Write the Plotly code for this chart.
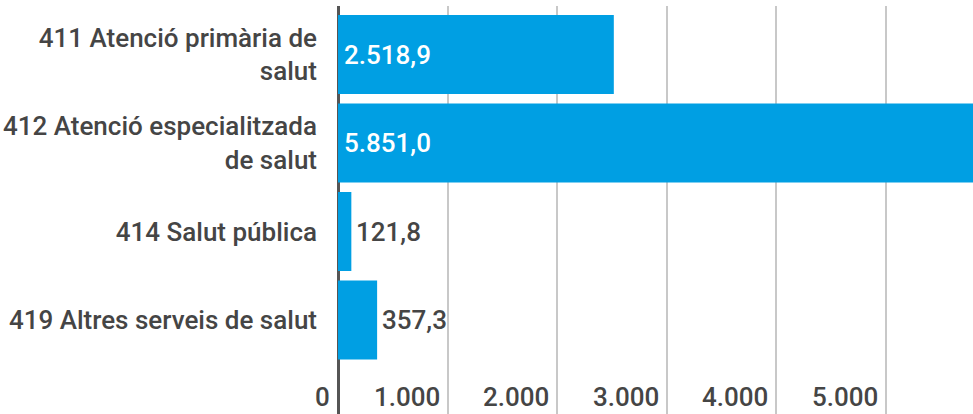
import plotly.graph_objects as go

categories = ["411 Atenció primària de<br>salut",
              "412 Atenció especialitzada<br>de salut",
              "414 Salut pública",
              "419 Altres serveis de salut"]
values = [2518.9, 5851.0, 121.8, 357.3]
value_labels = ["2.518,9", "5.851,0", "121,8", "357,3"]
label_inside = [True, True, False, False]
x_ticks = [0, 1000, 2000, 3000, 4000, 5000]
x_tick_labels = ["0", "1.000", "2.000", "3.000", "4.000", "5.000"]

FONT = "Roboto"
GRAY = "#454545"
BLUE = "#009FE3"
FS = 26

ypos = list(range(len(categories)))

fig = go.Figure()
fig.add_trace(go.Bar(
    x=values, y=ypos, orientation="h",
    marker=dict(color=BLUE, line=dict(width=0)),
    hoverinfo="skip",
))

annotations = []
for v, lab in zip(x_ticks, x_tick_labels):
    annotations.append(dict(
        x=v, xref="x", y=0, yref="paper", yanchor="bottom", xanchor="right",
        text=lab, showarrow=False, xshift=-6, yshift=0,
        font=dict(family=FONT, size=FS, color=GRAY, weight=500),
    ))
for yi, v, lab, inside in zip(ypos, values, value_labels, label_inside):
    annotations.append(dict(
        x=0 if inside else v, xref="x", y=yi, yref="y",
        xanchor="left", yanchor="middle", showarrow=False,
        text=lab, xshift=4 if inside else 3,
        font=dict(family=FONT, size=FS, color="white" if inside else GRAY, weight=500),
    ))

fig.update_layout(
    width=973, height=414,
    margin=dict(l=338, r=0, t=6, b=0),
    paper_bgcolor="white", plot_bgcolor="white",
    bargap=0.107,
    showlegend=False,
    separators=",.",
    annotations=annotations,
    xaxis=dict(
        range=[0, 5799], tickvals=x_ticks, showticklabels=False,
        showgrid=True, gridcolor="#c8c8c8", gridwidth=2,
        zeroline=True, zerolinecolor="#555555", zerolinewidth=3,
        showline=False, fixedrange=True,
    ),
    yaxis=dict(
        range=[len(categories) - 1 + 1.062, -0.548],
        tickvals=ypos, ticktext=categories,
        tickfont=dict(family=FONT, size=FS, color=GRAY, weight=500),
        ticklabelstandoff=20,
        showgrid=False, zeroline=False, showline=False, fixedrange=True,
    ),
)

fig.write_html("out.html", config={"displayModeBar": False},
               post_script="document.body.style.margin='0';")
